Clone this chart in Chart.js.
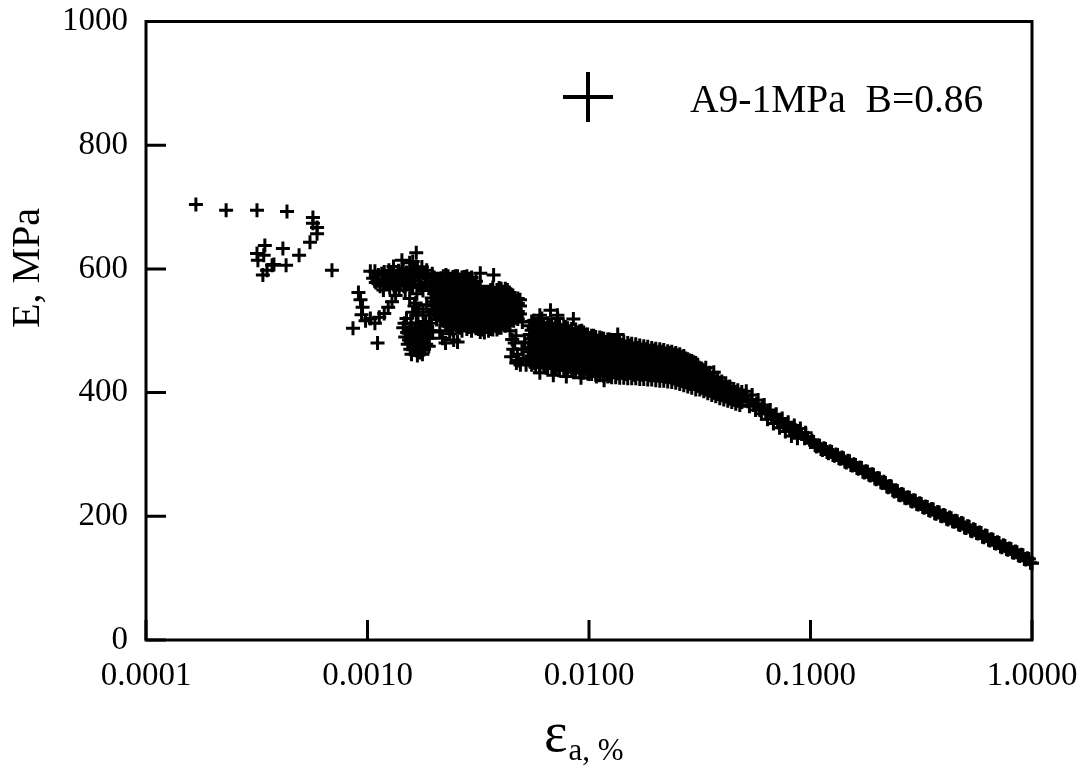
<!DOCTYPE html>
<html>
<head>
<meta charset="utf-8">
<script src="https://cdn.jsdelivr.net/npm/chart.js@4.4.1/dist/chart.umd.min.js"></script>
<style>
  html, body { margin: 0; padding: 0; background: #fff; }
  #wrap { width: 1088px; height: 771px; position: relative; }
</style>
</head>
<body>
<div id="wrap"><canvas id="c" width="1088" height="771"></canvas></div>
<script>
// Secant modulus E (MPa) against axial strain (%), specimen A9-1MPa, B = 0.86
const seriesName = 'A9-1MPa  B=0.86';
const xTickValues = [0.0001, 0.001, 0.01, 0.1, 1];
const xTickLabels = ['0.0001', '0.0010', '0.0100', '0.1000', '1.0000'];
const yTickValues = [0, 200, 400, 600, 800, 1000];
const yTickLabels = ['0', '200', '400', '600', '800', '1000'];
const yAxisTitle = 'E, MPa';
const xAxisSymbol = 'ε';
const xAxisSuffix = 'a, %';

// very small strains: scattered readings
const earlyPoints = [
  [0.000168,704],[0.000230,695],[0.000317,695],[0.000433,693],[0.000567,683],[0.000567,674],
  [0.000592,667],[0.000592,657],[0.000550,643],[0.000491,622],[0.000415,633],[0.000429,606],
  [0.000344,638],[0.000317,625],[0.000340,622],[0.000320,614],[0.000371,606],[0.000378,607],
  [0.000352,598],[0.000337,590],[0.000691,598]
];

// strains around 0.001 - 0.002 %
const clusterPoints = [
  [0.00086,504],[0.00103,596],[0.00111,480],
  [0.00091,562],[0.00093,550],[0.00095,538],[0.00094,526],[0.00098,516],[0.00103,520],[0.00108,512],
  [0.00113,522],[0.00119,528],[0.00124,538],[0.00129,547],[0.00134,557],[0.00139,566],
  [0.00106,585],[0.00109,578],[0.00112,590],[0.00114,572],[0.00117,583],[0.00119,595],[0.00121,576],
  [0.00124,587],[0.00126,570],[0.00128,580],[0.00130,592],[0.00133,575],[0.00135,585],[0.00138,597],
  [0.00140,578],[0.00143,588],[0.00146,572],[0.00148,583],[0.00150,594],[0.00153,578],[0.00156,600],
  [0.00159,588],[0.00131,604],[0.00125,598],
  [0.00108,596],[0.00111,583],[0.00116,592],[0.00118,566],[0.00123,580],[0.00127,592],[0.00132,568],
  [0.00136,579],[0.00141,592],[0.00145,600],[0.00149,576],[0.00152,588],[0.00157,570],[0.00161,595],
  [0.00164,580],[0.00168,603],[0.00172,585],[0.00175,570],[0.00179,592],[0.00183,578],[0.00187,588],
  [0.00191,572],[0.00196,592],[0.00200,580],
  [0.00143,614],[0.00155,610],[0.00166,626],[0.00160,612],[0.00176,603],[0.00170,590],[0.00185,598],[0.00163,598],
  [0.00148,566],[0.00160,572],[0.00167,560],[0.00172,575],[0.00178,565],[0.00155,552],[0.00165,545],
  [0.00170,535],[0.00160,530],
  [0.00145,505],[0.00148,490],[0.00150,520],[0.00152,478],[0.00155,498],[0.00157,512],[0.00160,485],
  [0.00162,470],[0.00164,500],[0.00166,525],[0.00168,478],[0.00170,490],[0.00172,465],[0.00174,505],
  [0.00176,482],[0.00178,495],[0.00180,470],[0.00183,515],[0.00186,488],[0.00189,475],[0.00192,500],
  [0.00158,462],[0.00168,460],[0.00175,472],[0.00163,540],[0.00178,530],[0.00185,542],[0.00190,525],
  [0.00147,512],[0.00151,497],[0.00154,485],[0.00156,470],[0.00159,505],[0.00161,492],[0.00165,480],
  [0.00167,468],[0.00169,512],[0.00171,500],[0.00173,485],[0.00177,462],[0.00179,508],[0.00181,490],
  [0.00184,478],[0.00187,500],[0.00190,488],[0.00194,512],[0.00197,498],
  [0.00205,518],[0.00212,500],[0.00218,488],[0.00225,480],[0.00235,495],[0.00245,485],[0.00255,482],
  [0.00228,508],[0.00200,530],
  [0.00272,586],[0.00323,593],[0.00371,590]
];

// dense readings between 0.002 and 0.005 %: strain per column, moduli per column
const massStrain = [0.00195,0.00205,0.00215,0.00226,0.00237,0.00249,0.00261,0.00274,0.00288,0.00302,0.00317,
                    0.00330,0.00345,0.00360,0.00376,0.00393,0.00410,0.00428,0.00447,0.00467,0.00488];
const massModulus = [
  [540,553,566,579],[530,545,558,571,584],[520,533,546,559,572,585],[512,525,538,551,564,577,590],
  [506,519,532,545,558,571,584],[510,523,536,549,562,575,588],[505,518,531,544,557,570,583],
  [509,522,535,548,561,574,587],[506,519,532,545,558,571,584],[510,523,536,549,562,575],
  [503,516,529,542,555,568],
  [502,515,528,541,554],[507,520,533,546,559],[503,516,529,542,555,566],[508,521,534,547,560],
  [505,518,531,544,557,569],[511,524,537,550,563],[514,527,540,553,566],[518,531,544,557],
  [522,535,548],[527,540,550]
];
const massStrainB = [0.00200,0.00210,0.00220,0.00231,0.00243,0.00255,0.00267,0.00281,0.00295,0.00309,
                     0.00323,0.00337,0.00352,0.00368,0.00384,0.00401,0.00419,0.00437,0.00457,0.00477];
const massModulusB = [
  [534,547,560,573,586],[525,538,551,564,578,584],[516,527,540,553,566,579,588],
  [509,519,532,545,558,571,584,588],[502,513,526,539,552,565,578,587],[505,516,529,542,555,568,581,588],
  [500,512,525,538,551,564,577,586],[503,515,528,541,554,567,580,588],[500,512,525,538,551,564,577,586],
  [504,516,529,542,555,568,580],[498,509,522,535,548,561,572],[497,509,522,535,548,560],
  [500,513,526,539,552,563],[502,511,524,537,550,562,570],[502,514,527,540,553,566],
  [505,517,530,543,556,568],[508,520,533,546,559,568],[512,524,537,550,562],
  [516,528,541,553],[519,531,544,552]
];

// isolated readings near 0.005 % and around the start of the main band
const loosePoints = [
  [0.00445,458],[0.00455,470],[0.00462,480],[0.00468,492],[0.00475,462],[0.00482,452],[0.00490,445],
  [0.00498,470],[0.00505,455],[0.00512,482],[0.00520,445],[0.00470,448],[0.00500,514],[0.00450,486],[0.00440,500],
  [0.0060,525],[0.0067,533],[0.0072,525],[0.0085,519],
  [0.0060,432],[0.0064,440],[0.0069,428],[0.0073,436],[0.0079,426],[0.0085,433],[0.0092,424],
  [0.0100,430],[0.0108,426],[0.0117,420],[0.0125,427]
];

// main band 0.005 - 0.05 %, first set of readings
const bandStrain = [0.00540,0.00563,0.00587,0.00612,0.00638,0.00665,0.00693,0.00722,0.00753,0.00785,
  0.00818,0.00853,0.00889,0.00927,0.00966,0.01007,0.0105,0.01095,0.01141,0.0119,0.0124,0.01293,0.01348,
  0.01405,0.01465,0.01527,0.01592,0.0166,0.0173,0.01804,0.0188,0.0196,0.02044,0.0213,0.0222,0.02315,
  0.02413,0.02516,0.02623,0.02734,0.0285,0.02971,0.03098,0.0323,0.03367,0.0351,0.03659,0.03814,0.03976,
  0.04145,0.04321,0.04505,0.04696,0.04896];
const bandModulus = [
  [452,466,480,494,508],[448,462,476,490,504,516],[455,470,484,498,512],[450,464,478,492,506,520],
  [448,461,475,489,503],[454,468,482,496,510],[447,460,474,488,502],[452,466,480,494,508,520],
  [445,458,472,486,500],[450,464,478,492,506],[443,457,471,485,499],[448,462,476,490],
  [441,455,469,483,497],[446,460,474,488,500],[439,452,466,480,494],[444,458,472,486],
  [437,450,464,478,492],[442,456,470,484],[434,447,461,475,488],[440,454,468,482],
  [432,445,459,473,486],[438,452,466,480],[431,444,458,472,494],[436,450,464,477],
  [430,443,457,471],[435,449,463,476],[429,442,456,470],[434,448,462,472],
  [429,442,455,468],[433,446,459,470],[428,441,454,467],[432,445,458,468],
  [428,440,453,465],[431,444,456,466],[426,439,452,463],[429,442,455,464],
  [424,437,450,461],[427,440,452,460],[421,434,447,457],[424,437,449,455],
  [417,430,442,452],[419,431,443,449],[412,424,436,445],[414,426,438],
  [407,419,431,440],[408,420,432],[402,414,425,433],[403,414,424],
  [397,408,418],[396,406,415],[391,401,410],[389,398,406],[387,396,404],[385,393,401]
];

// main band 0.005 - 0.05 %, second set of readings
const bandStrainB = [0.00551,0.00575,0.00599,0.00625,0.00651,0.00679,0.00707,0.00737,0.00769,0.00801,
  0.00835,0.00871,0.00908,0.00946,0.00986,0.01028,0.01072,0.01118,0.01165,0.01215,0.01266,0.0132,0.01376,
  0.01435,0.01496,0.01559,0.01626,0.01695,0.01767,0.01842,0.0192,0.02002,0.02087,0.02175,0.02267,0.02364,
  0.02464,0.02569,0.02678,0.02792,0.0291,0.03034,0.03164,0.03298,0.03438,0.03584,0.03736,0.03895,0.0406,
  0.04233,0.04413,0.046,0.04796];
const bandModulusB = [
  [445,459,473,487,501,515],[441,455,469,483,497,511],[443,457,471,485,499,513],[441,455,469,483,497,511],
  [440,454,468,482,496,512],[441,454,467,481,495,509],[439,453,467,481,495,510],[438,451,465,479,493,507],
  [437,451,465,479,493,507],[436,450,464,478,492,504],[435,449,463,477,491,503],[434,448,462,476,490,502],
  [433,447,461,475,489,499],[432,446,460,473,487,497],[431,445,459,473,487,494],[430,444,457,471,485,492],
  [429,443,456,470,484,490],[428,441,454,468,481,489],[427,440,454,467,480,487],[426,439,452,466,479,486],
  [425,438,451,464,477,485],[425,438,451,464,477,484],[424,437,450,463,476,483],[424,437,450,463,476,482],
  [423,436,449,462,475,480],[423,436,449,462,474,479],[423,436,449,461,473,478],[422,435,448,460,472,476],
  [422,435,447,459,470,475],[421,434,446,458,469,474],[421,434,446,458,468,472],[420,433,445,457,467,471],
  [419,432,444,456,466,470],[419,432,444,455,465,469],[418,431,443,454,464,467],[417,430,442,453,462,466],
  [416,429,441,452,461,464],[414,427,439,450,459,462],[412,425,437,448,457,459],[410,423,435,446,454],
  [408,421,433,444,451],[405,418,430,441,448],[405,416,427,437],[402,413,424,433],
  [399,410,420,428],[396,406,416,423],[394,403,412,418],[391,400,409,414],
  [389,397,405,410],[387,395,403],[385,393,400],[382,390,397],[380,388,395]
];

// large strains 0.05 - 1 %, first set of readings
const tailStrain = [0.0505,0.0521,0.0537,0.0554,0.0571,0.0590,0.0608,0.0628,0.0647,0.0668,0.0689,0.0711,
  0.0733,0.0757,0.0780,0.0805,0.0830,0.0857,0.0883,0.0912,0.0940,0.0970,0.1000,0.1033,0.1064,0.1099,
  0.1132,0.1169,0.1205,0.1245,0.1282,0.1324,0.1365,0.1409,0.1452,0.1500,0.1545,0.1596,0.1644,0.1698,
  0.1750,0.1807,0.1862,0.1923,0.1982,0.2046,0.2109,0.2178,0.2244,0.2317,0.2388,0.2466,0.2541,0.2624,
  0.2704,0.2793,0.2877,0.2972,0.3062,0.3162,0.3258,0.3365,0.3467,0.3581,0.3690,0.3811,0.3926,0.4055,
  0.4178,0.4315,0.4446,0.4592,0.4732,0.4887,0.5035,0.5200,0.5358,0.5534,0.5702,0.5888,0.6067,0.6266,
  0.6457,0.6668,0.6871,0.7096,0.7311,0.7551,0.7780,0.8035,0.8279,0.8551,0.8810,0.9099,0.9397,0.9683,1.0000];
const tailModulus = [395,386,388,380,382,372,375,366,368,359,362,352,
  355,346,349,340,342,339,335,333,326,327,320,320,313,314,
  307,309,302,304,298,299,293,294,287,289,282,283,277,278,
  271,272,266,267,260,261,254,254,247,248,240,241,234,235,
  229,230,224,225,219,220,214,215,209,211,204,206,200,201,
  195,197,191,192,186,188,181,183,176,178,172,173,166,168,
  161,162,156,157,150,152,146,147,141,142,136,137,130,131,124];

// large strains 0.1 - 1 %, second set of readings
const tailStrainB = [0.1016,0.1049,0.1081,0.1115,0.1150,0.1187,0.1225,0.1263,0.1303,0.1344,0.1387,0.1430,
  0.1476,0.1522,0.1570,0.1620,0.1671,0.1724,0.1778,0.1834,0.1892,0.1952,0.2014,0.2077,0.2143,0.2211,
  0.2280,0.2352,0.2427,0.2503,0.2582,0.2664,0.2748,0.2835,0.2924,0.3017,0.3112,0.3210,0.3311,0.3416,
  0.3524,0.3635,0.3750,0.3868,0.3990,0.4116,0.4246,0.4380,0.4519,0.4661,0.4809,0.4961,0.5117,0.5279,
  0.5446,0.5618,0.5795,0.5977,0.6166,0.6361,0.6562,0.6769,0.6983,0.7203,0.7431,0.7665,0.7907,0.8157,
  0.8414,0.8680,0.8954,0.9237,0.9529,0.9840];
const tailModulusB = [322,315,315,309,310,304,305,299,300,294,295,288,
  290,283,284,278,279,272,273,267,268,261,262,255,256,248,
  249,242,242,235,236,230,231,225,226,220,221,215,216,210,
  212,205,207,201,202,196,198,192,193,187,189,182,184,177,
  179,173,174,167,169,162,163,157,158,151,153,147,148,142,
  143,137,138,131,132,125];

const tailExtraPoints = [
  [0.0513,402],[0.0545,396],[0.0580,388],[0.0618,380],[0.0658,372],[0.0700,365],[0.0745,358],
  [0.0793,352],[0.0845,347],[0.0900,342],[0.0950,335],
  [0.0530,378],[0.0565,372],[0.0600,366],[0.0640,357],[0.0680,350],[0.0725,343],[0.0770,337],
  [0.0820,330],[0.0873,326]
];

// assemble the single scatter series
const points = [];
const addPairs = arr => arr.forEach(([x, y]) => points.push({ x, y }));
const addColumns = (xs, ys) => xs.forEach((x, i) => ys[i].forEach(y => points.push({ x, y })));
const addSeries = (xs, ys) => xs.forEach((x, i) => points.push({ x, y: ys[i] }));
addPairs(earlyPoints);
addPairs(clusterPoints);
addColumns(massStrain, massModulus);
addColumns(massStrainB, massModulusB);
addPairs(loosePoints);
addColumns(bandStrain, bandModulus);
addColumns(bandStrainB, bandModulusB);
addSeries(tailStrain, tailModulus);
addSeries(tailStrainB, tailModulusB);
addPairs(tailExtraPoints);

const FONT = '"Liberation Serif", "Times New Roman", serif';

// keep the plot box exactly where the layout padding puts it
function noOverhang(s) {
  s.paddingTop = 0; s.paddingBottom = 0; s.paddingLeft = 0; s.paddingRight = 0;
}

// frame, inward tick marks, axis titles and the legend key
const decorations = {
  id: 'decorations',
  afterDraw(chart) {
    const { ctx, chartArea: a, scales } = chart;
    ctx.save();
    ctx.strokeStyle = '#000';
    ctx.lineWidth = 3;
    ctx.lineCap = 'butt';
    ctx.strokeRect(a.left, a.top, a.right - a.left, a.bottom - a.top);
    ctx.beginPath();
    yTickValues.forEach(v => {
      const py = scales.y.getPixelForValue(v);
      ctx.moveTo(a.left, py); ctx.lineTo(a.left + 20, py);
    });
    xTickValues.forEach(v => {
      const px = scales.x.getPixelForValue(v);
      ctx.moveTo(px, a.bottom); ctx.lineTo(px, a.bottom - 20);
    });
    ctx.stroke();

    ctx.fillStyle = '#000';
    // y-axis title
    ctx.save();
    ctx.translate(28, 268);
    ctx.rotate(-Math.PI / 2);
    ctx.font = '40px ' + FONT;
    ctx.textAlign = 'center';
    ctx.textBaseline = 'middle';
    ctx.fillText(yAxisTitle, 0, 0);
    ctx.restore();

    // x-axis title: epsilon with subscript
    ctx.textAlign = 'left';
    ctx.textBaseline = 'alphabetic';
    ctx.font = '56px ' + FONT;
    ctx.fillText(xAxisSymbol, 544, 751);
    const w = ctx.measureText(xAxisSymbol).width;
    ctx.font = '31px ' + FONT;
    ctx.fillText(xAxisSuffix, 544 + w + 1, 760);

    // legend key
    ctx.lineWidth = 4;
    ctx.beginPath();
    ctx.moveTo(563, 97); ctx.lineTo(613, 97);
    ctx.moveTo(588, 72); ctx.lineTo(588, 122);
    ctx.stroke();
    ctx.font = '39.5px ' + FONT;
    ctx.fillText(seriesName, 690, 112);
    ctx.restore();
  }
};

new Chart(document.getElementById('c'), {
  type: 'scatter',
  data: {
    datasets: [{
      label: seriesName,
      data: points,
      pointStyle: 'cross',
      pointRadius: 7,
      pointHoverRadius: 7,
      borderWidth: 3,
      pointBorderWidth: 3,
      borderColor: '#000',
      backgroundColor: '#000',
      showLine: false,
      clip: 10
    }]
  },
  options: {
    responsive: false,
    animation: false,
    devicePixelRatio: 1,
    layout: { padding: { top: 21.5, right: 56, bottom: 0, left: 0 } },
    plugins: { legend: { display: false }, tooltip: { enabled: false } },
    scales: {
      x: {
        type: 'logarithmic',
        min: 0.0001,
        max: 1,
        afterBuildTicks(s) { s.ticks = xTickValues.map(v => ({ value: v })); },
        afterFit(s) { s.height = 131; noOverhang(s); },
        ticks: {
          autoSkip: false,
          maxRotation: 0,
          color: '#000',
          padding: 17,
          font: { family: FONT, size: 33 },
          callback(v) {
            const i = xTickValues.findIndex(t => Math.abs(t - v) / t < 1e-6);
            return i >= 0 ? xTickLabels[i] : '';
          }
        },
        grid: { display: false, drawTicks: false },
        border: { display: false }
      },
      y: {
        type: 'linear',
        min: 0,
        max: 1000,
        afterBuildTicks(s) { s.ticks = yTickValues.map(v => ({ value: v })); },
        afterFit(s) { s.width = 146; noOverhang(s); },
        ticks: {
          color: '#000',
          padding: 18,
          font: { family: FONT, size: 33 },
          callback(v) {
            const i = yTickValues.indexOf(v);
            return i >= 0 ? yTickLabels[i] : '';
          }
        },
        grid: { display: false, drawTicks: false },
        border: { display: false }
      }
    }
  },
  plugins: [decorations]
});
</script>
</body>
</html>
